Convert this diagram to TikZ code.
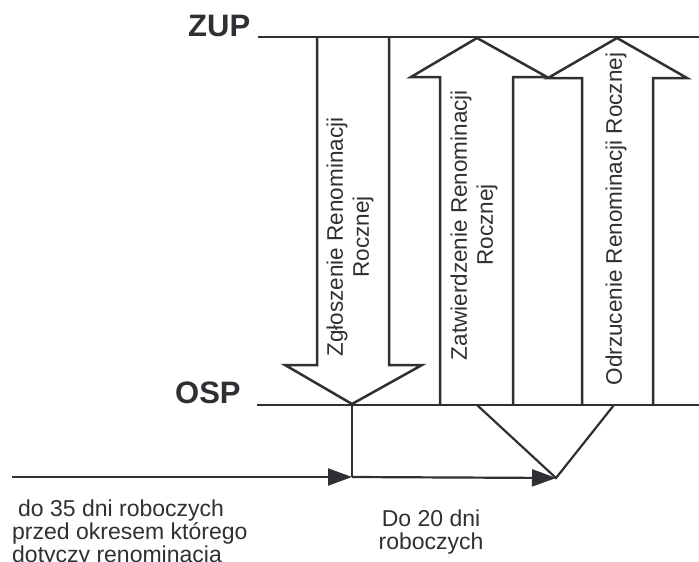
\documentclass[tikz,border=0pt]{standalone}
\usepackage{fontspec}
\setmainfont{Liberation Sans}
\usetikzlibrary{arrows.meta}
\definecolor{ink}{HTML}{2E3033}
\tikzset{
  blk/.style={draw=ink, line width=2.5pt, line join=miter, line cap=butt},
  lvl/.style={draw=ink, line width=2.3pt},
  conn/.style={draw=ink, line width=2.2pt},
  tipped/.style={-{Triangle[length=24pt,width=17pt]}},
  lab/.style={font=\fontsize{22.5}{26}\selectfont, text=ink, inner sep=0pt, align=center},
  note/.style={font=\fontsize{23}{23}\selectfont, text=ink, inner sep=0pt},
  big/.style={font=\fontsize{31}{31}\selectfont\bfseries, text=ink, inner sep=0pt}
}
\begin{document}
\begin{tikzpicture}[x=1pt,y=-1pt]
\useasboundingbox (0,0) rectangle (699,562);
\fill[white] (0,0) rectangle (699,562);

% level labels
\node[big, anchor=base west] (zup) at (188,36) {ZUP};
\node[big, anchor=base west] (osp) at (175,403) {OSP};

% level lines
\coordinate (zupL) at (258,37);
\coordinate (zupR) at (702,37);
\coordinate (ospL) at (257,405);
\coordinate (ospR) at (702,405);
\draw[lvl] (zupL) -- (zupR);
\draw[lvl] (ospL) -- (ospR);

% arrow 1 (down)
\draw[blk] (317,37) -- (317,365) -- (285,365) -- (352,404) -- (422,365) -- (389,365) -- (389,37);
% arrow 2 (up)
\draw[blk] (440,405) -- (440,77) -- (411,77) -- (477,38) -- (547,77) -- (513,77) -- (513,405);
% arrow 3 (up)
\draw[blk] (582,405) -- (582,78) -- (548,78) -- (617,38) -- (687,78) -- (653,78) -- (653,405);

% arrow labels
\node[lab, rotate=90] (l1) at (350,237) {Zgłoszenie Renominacji\\Rocznej};
\node[lab, rotate=90] (l2) at (474,225) {Zatwierdzenie Renominacji\\Rocznej};
\node[lab, rotate=90] (l3) at (616,219) {Odrzucenie Renominacji Rocznej};

% timeline connectors
\coordinate (tip1) at (352,404);
\coordinate (j1) at (352,477);
\coordinate (start) at (12,477);
\coordinate (j2) at (556,478);
\coordinate (b2) at (477,405);
\coordinate (b3) at (614,405);
\draw[conn] (tip1) -- (j1);
\draw[conn, tipped] (start) -- (j1);
\draw[conn, tipped] (j1) -- (j2);
\draw[conn, line join=miter] (b2) -- (j2) -- (b3);

% notes
\node[note, anchor=north west, align=left] (n1) at (12,500)
  {\hspace*{6pt}do 35 dni roboczych\\przed okresem którego\\dotyczy renominacja};
\node[note, anchor=north, align=center] (n2) at (431,510) {Do 20 dni\\roboczych};
\end{tikzpicture}
\end{document}
